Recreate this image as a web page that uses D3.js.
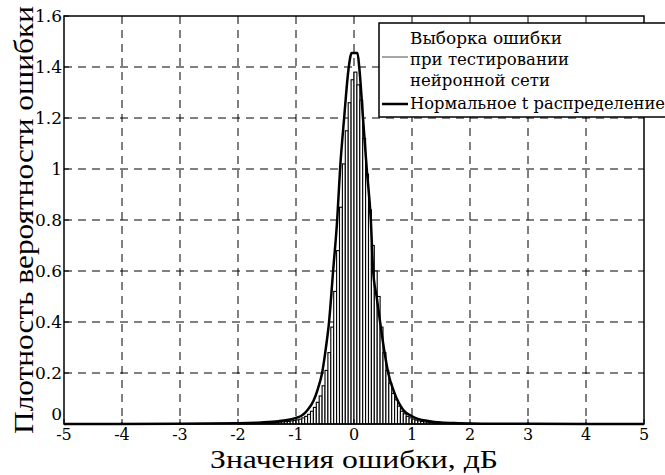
<!DOCTYPE html>
<html>
<head>
<meta charset="utf-8">
<script src="https://cdn.jsdelivr.net/npm/d3@7"></script>
<style>
  body {margin: 0; background: #fff;}
</style>
</head>
<body>
<div class="container"></div>
<script>
var width = 665;
var height = 475;
var margin = {top: 16, right: 21, bottom: 51, left: 64};
var serif = "'Liberation Serif', 'DejaVu Serif', serif";
var smallSerif = "'DejaVu Serif', 'Liberation Serif', serif";

// histogram: left edges of bins (step 0.05) and density of each bin
var binStart = -2.0;
var binStep = 0.05;
var histValues = [
  0.001, 0.001, 0.001, 0.002, 0.002, 0.002, 0.002, 0.003, 0.003, 0.003,
  0.004, 0.004, 0.005, 0.006, 0.007, 0.008, 0.009, 0.010, 0.012, 0.014,
  0.016, 0.019, 0.024, 0.030, 0.038, 0.050, 0.065, 0.085, 0.11, 0.15,
  0.21, 0.28, 0.38, 0.52, 0.68, 0.85, 1.02, 1.15, 1.26, 1.35,
  1.38, 1.33, 1.27, 1.12, 0.98, 0.84, 0.70, 0.60, 0.50, 0.38,
  0.28, 0.21, 0.16, 0.12, 0.095, 0.07, 0.05, 0.040, 0.030, 0.024,
  0.019, 0.015, 0.012, 0.010, 0.008, 0.007, 0.006, 0.005, 0.004, 0.004,
  0.003, 0.003, 0.003, 0.002, 0.002, 0.002, 0.002, 0.001, 0.001, 0.001,
  0.001, 0.001, 0.001, 0.001, 0.001, 0.001, 0.001, 0.001
];

// fitted t distribution
var curveX = [-5, -3, -2, -1.6, -1.3, -1.1, -1.0, -0.9, -0.8, -0.7, -0.62, -0.55, -0.49, -0.43,
  -0.36, -0.29, -0.24, -0.17, -0.09, -0.04, 0.06, 0.09, 0.155, 0.22, 0.29, 0.33, 0.39, 0.45,
  0.52, 0.59, 0.7, 0.85, 1.0, 1.1, 1.3, 1.5, 1.8, 2.2, 3, 5];
var curveY = [0, 0.001, 0.003, 0.006, 0.011, 0.018, 0.024, 0.033, 0.055, 0.09, 0.14, 0.2, 0.29, 0.4,
  0.6, 0.8, 1.0, 1.2, 1.4, 1.455, 1.455, 1.4, 1.2, 1.0, 0.8, 0.6, 0.5, 0.4,
  0.29, 0.2, 0.12, 0.055, 0.03, 0.02, 0.011, 0.006, 0.003, 0.001, 0.0005, 0];

var xTicks = [-5, -4, -3, -2, -1, 0, 1, 2, 3, 4, 5];
var yTicks = [0, 0.2, 0.4, 0.6, 0.8, 1, 1.2, 1.4, 1.6];
var xTitle = "Значения ошибки, дБ";
var yTitle = "Плотность вероятности ошибки";
var legendLines = ["Выборка ошибки", "при тестировании", "нейронной сети", "Нормальное t распределение"];
var legendWidths = [152, 159, 140, 255];

var xScale = d3.scaleLinear().domain([-5, 5]).range([margin.left, width - margin.right]);
var yScale = d3.scaleLinear().domain([0, 1.6]).range([height - margin.bottom, margin.top]);

var svg = d3.select(".container")
  .append("svg")
  .attr("width", width).attr("height", height);

//-----------------------------------------
// 1. GRID
var grid = svg.append("g").attr("class", "grid")
  .attr("stroke", "#000").attr("stroke-width", 1).attr("stroke-dasharray", "8,6");
grid.selectAll(".vgrid")
  .data(xTicks.slice(1, -1))
  .enter().append("line")
  .attr("x1", d => xScale(d)).attr("x2", d => xScale(d))
  .attr("y1", yScale(1.6)).attr("y2", yScale(0));
grid.selectAll(".hgrid")
  .data(yTicks.slice(1, -1))
  .enter().append("line")
  .attr("x1", xScale(-5)).attr("x2", xScale(5))
  .attr("y1", d => yScale(d)).attr("y2", d => yScale(d));

//-----------------------------------------
// 2. HISTOGRAM
var binW = xScale(binStep) - xScale(0);
svg.append("g").selectAll(".bar")
  .data(histValues)
  .enter().append("rect")
  .attr("class", "bar")
  .attr("x", (d, i) => xScale(binStart + i * binStep))
  .attr("y", d => yScale(d))
  .attr("width", binW)
  .attr("height", d => yScale(0) - yScale(d))
  .attr("fill", "#fff")
  .attr("stroke", "#000")
  .attr("stroke-width", 1.1);

//-----------------------------------------
// 3. CURVE
var line = d3.line()
  .x(d => xScale(d[0]))
  .y(d => yScale(d[1]))
  .curve(d3.curveMonotoneX);
svg.append("path")
  .datum(d3.zip(curveX, curveY))
  .attr("d", line)
  .attr("fill", "none")
  .attr("stroke", "#000")
  .attr("stroke-width", 2.5);

//-----------------------------------------
// 4. AXES & BOX
svg.append("rect")
  .attr("x", xScale(-5)).attr("y", yScale(1.6))
  .attr("width", xScale(5) - xScale(-5)).attr("height", yScale(0) - yScale(1.6))
  .attr("fill", "none").attr("stroke", "#000").attr("stroke-width", 1.5);

svg.append("g").selectAll(".ytick")
  .data(yTicks)
  .enter().append("line")
  .attr("x1", xScale(-5)).attr("x2", xScale(-5) + 5)
  .attr("y1", d => yScale(d)).attr("y2", d => yScale(d))
  .attr("stroke", "#000");
svg.append("g").selectAll(".xtick")
  .data(xTicks)
  .enter().append("line")
  .attr("x1", d => xScale(d)).attr("x2", d => xScale(d))
  .attr("y1", yScale(0)).attr("y2", yScale(0) - 5)
  .attr("stroke", "#000");

svg.append("g").selectAll(".ylabel")
  .data(yTicks)
  .enter().append("text")
  .attr("x", xScale(-5) - 2)
  .attr("y", d => yScale(d) + (d == 0 ? -4 : 6))
  .attr("text-anchor", "end")
  .attr("font-family", smallSerif)
  .attr("font-size", 17)
  .text(d => d);
svg.append("g").selectAll(".xlabel")
  .data(xTicks)
  .enter().append("text")
  .attr("x", d => xScale(d))
  .attr("y", yScale(0) + 16)
  .attr("text-anchor", "middle")
  .attr("font-family", smallSerif)
  .attr("font-size", 16)
  .text(d => d);

svg.append("text")
  .attr("x", xScale(0))
  .attr("y", height - 7)
  .attr("text-anchor", "middle")
  .attr("font-family", serif)
  .attr("font-size", 25)
  .attr("textLength", 288)
  .attr("lengthAdjust", "spacingAndGlyphs")
  .text(xTitle);
svg.append("text")
  .attr("transform", "translate(33," + ((yScale(0) + yScale(1.6)) / 2) + ") rotate(-90)")
  .attr("text-anchor", "middle")
  .attr("font-family", serif)
  .attr("font-size", 27)
  .attr("textLength", 428)
  .attr("lengthAdjust", "spacingAndGlyphs")
  .text(yTitle);

//-----------------------------------------
// 5. LEGEND
var legend = svg.append("g").attr("id", "legend");
legend.append("rect")
  .attr("x", 379).attr("y", 23)
  .attr("width", 300).attr("height", 94)
  .attr("fill", "#fff").attr("stroke", "#000").attr("stroke-width", 1.5);
legend.append("line")
  .attr("x1", 382).attr("x2", 408).attr("y1", 57).attr("y2", 57)
  .attr("stroke", "#888").attr("stroke-width", 1.5);
legend.append("line")
  .attr("x1", 382).attr("x2", 408).attr("y1", 104).attr("y2", 104)
  .attr("stroke", "#000").attr("stroke-width", 2.5);
legend.selectAll(".ltext")
  .data(legendLines)
  .enter().append("text")
  .attr("x", 410)
  .attr("y", (d, i) => [44, 65, 86, 109][i])
  .attr("font-family", smallSerif)
  .attr("font-size", 16)
  .attr("textLength", (d, i) => legendWidths[i])
  .attr("lengthAdjust", "spacingAndGlyphs")
  .text(d => d);
</script>
</body>
</html>
